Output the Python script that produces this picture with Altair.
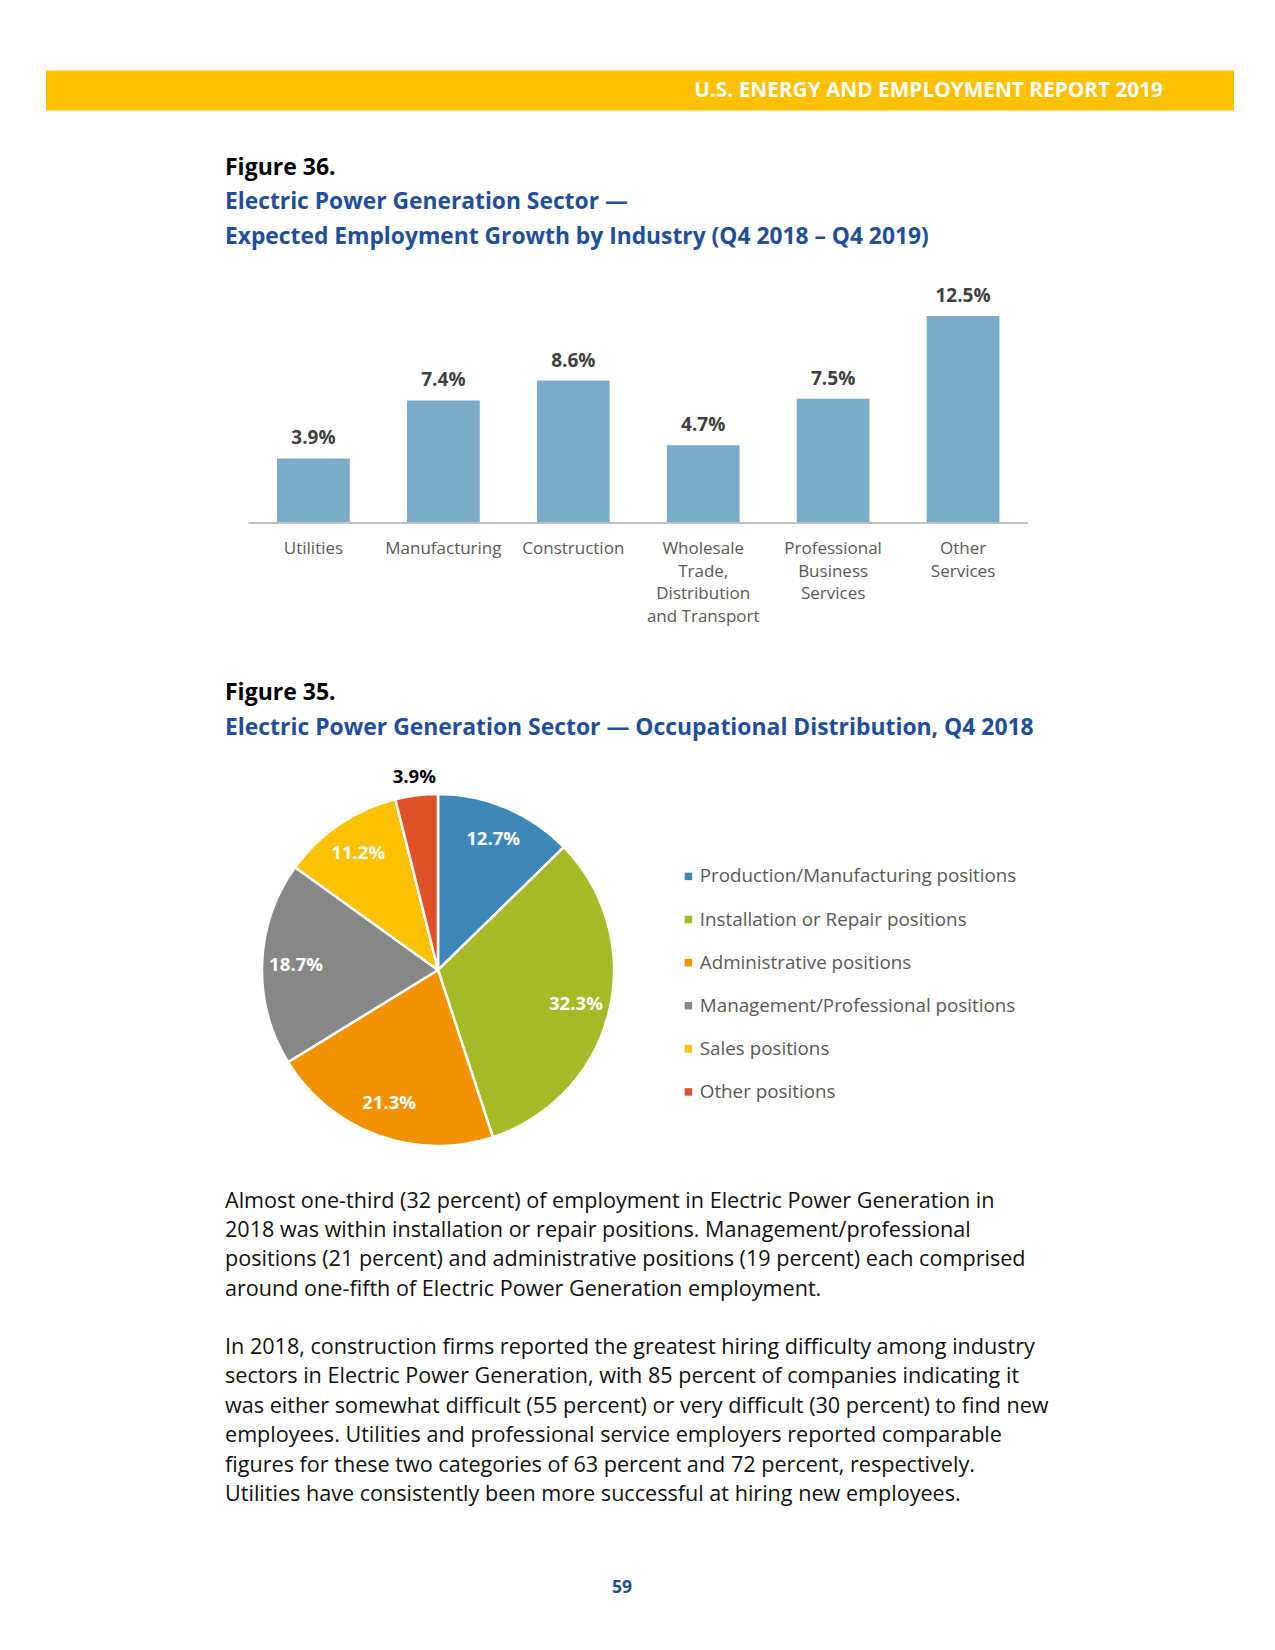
import altair as alt
import pandas as pd

# ---------------- data ----------------
industries = ["Utilities", "Manufacturing", "Construction",
              "Wholesale\nTrade,\nDistribution\nand Transport",
              "Professional\nBusiness\nServices", "Other\nServices"]
growth = [3.9, 7.4, 8.6, 4.7, 7.5, 12.5]

occupations = ["Production/Manufacturing positions", "Installation or Repair positions",
               "Administrative positions", "Management/Professional positions",
               "Sales positions", "Other positions"]
shares = [12.7, 32.3, 21.3, 18.7, 11.2, 3.9]
occ_colors = ["#3E88B8", "#A6B927", "#F39200", "#878787", "#FCC100", "#E05127"]

header_text = "U.S. ENERGY AND EMPLOYMENT REPORT 2019"
fig36_label = "Figure 36."
fig36_title = ["Electric Power Generation Sector \u2014",
               "Expected Employment Growth by Industry (Q4 2018 \u2013 Q4 2019)"]
fig35_label = "Figure 35."
fig35_title = "Electric Power Generation Sector \u2014 Occupational Distribution, Q4 2018"
para1 = ["Almost one-third (32 percent) of employment in Electric Power Generation in",
         "2018 was within installation or repair positions. Management/professional",
         "positions (21 percent) and administrative positions (19 percent) each comprised",
         "around one-fifth of Electric Power Generation employment."]
para2 = ["In 2018, construction firms reported the greatest hiring difficulty among industry",
         "sectors in Electric Power Generation, with 85 percent of companies indicating it",
         "was either somewhat difficult (55 percent) or very difficult (30 percent) to find new",
         "employees. Utilities and professional service employers reported comparable",
         "figures for these two categories of 63 percent and 72 percent, respectively.",
         "Utilities have consistently been more successful at hiring new employees."]
page_number = "59"

FONT = "Open Sans"
BLUE = "#1F4E9C"
W, H = 1259, 1634

one = alt.Data(values=[{}])


def txt(text, x, y, size, weight="normal", color="#000000", align="left", line_height=None):
    kw = dict(fontSize=size, fontWeight=weight, color=color, align=align,
              baseline="middle", font=FONT)
    if line_height:
        kw["lineHeight"] = line_height
    return alt.Chart(one).mark_text(**kw).encode(
        x=alt.value(x), y=alt.value(y), text=alt.value(text))


# ---------------- header ----------------
header_bar = alt.Chart(one).mark_rect(color="#FFC000").encode(
    x=alt.value(38), x2=alt.value(1226), y=alt.value(62.5), y2=alt.value(102.5))
header_lbl = txt(header_text, 1155, 83, 20.8, "bold", "#FFFFFF", align="right")

# ---------------- bar chart ----------------
bar_df = pd.DataFrame({"industry": industries, "growth": growth})
bar_df["lbl"] = [f"{v:.1f}%" for v in growth]

xs = alt.Scale(domain=industries, range=[240.5, 1020], paddingInner=0.44, paddingOuter=0.22)
ys = alt.Scale(domain=[0, 14], range=[515, 283.2])

bar_base = alt.Chart(bar_df).encode(
    x=alt.X("industry:N", scale=xs, sort=None, axis=None))
bars = bar_base.mark_bar(color="#7AACCA").encode(
    y=alt.Y("growth:Q", scale=ys, axis=None))
bar_vals = bar_base.mark_text(fontSize=19, fontWeight="bold", color="#404040",
                              font=FONT, baseline="middle", dy=-20).encode(
    y=alt.Y("growth:Q", scale=ys, axis=None), text="lbl:N")
bar_cats = bar_base.mark_text(fontSize=17, color="#595959", font=FONT,
                              baseline="middle", lineBreak="\n", lineHeight=22.5).encode(
    y=alt.value(541), text="industry:N")
baseline = alt.Chart(one).mark_rule(color="#BFBFBF", strokeWidth=2).encode(
    x=alt.value(240.5), x2=alt.value(1020), y=alt.value(515))

bar_chart = alt.layer(bars, bar_vals, bar_cats, baseline)

# ---------------- pie chart ----------------
pie_df = pd.DataFrame({"occ": occupations, "share": shares, "ord": list(range(len(shares)))})
pie_df["lbl"] = [f"{v:.1f}%" for v in shares]

pie_base = alt.Chart(pie_df).encode(
    theta=alt.Theta("share:Q", stack=True),
    order=alt.Order("ord:Q"),
    x=alt.value(430), y=alt.value(962))
arcs = pie_base.mark_arc(outerRadius=176, stroke="#FFFFFF", strokeWidth=2.5).encode(
    color=alt.Color("occ:N",
                    scale=alt.Scale(domain=occupations, range=occ_colors),
                    sort=occupations,
                    legend=alt.Legend(orient="none", legendX=671, legendY=859,
                                      title=None, symbolType="square", symbolSize=56,
                                      symbolStrokeWidth=0, labelFontSize=18.8,
                                      labelFont=FONT, labelColor="#595959",
                                      labelLimit=600, rowPadding=23.1, labelOffset=2)))
inner_lbls = pie_base.transform_calculate(
    t="datum.occ == 'Other positions' ? '' : datum.lbl"
).mark_text(radius=142, fontSize=18.6, fontWeight="bold", color="#FFFFFF",
            font=FONT, baseline="middle").encode(text="t:N")
outer_lbls = pie_base.transform_calculate(
    t="datum.occ == 'Other positions' ? datum.lbl : ''"
).mark_text(radius=194, fontSize=18.6, fontWeight="bold", color="#000000",
            font=FONT, baseline="middle").encode(text="t:N")

pie_chart = alt.layer(arcs, inner_lbls, outer_lbls)

# ---------------- texts ----------------
texts = [
    header_bar, header_lbl,
    txt(fig36_label, 217, 160, 23, "bold", "#000000"),
    txt(fig36_title[0], 217, 194, 22.8, "bold", BLUE),
    txt(fig36_title[1], 217, 229, 22.8, "bold", BLUE),
    txt(fig35_label, 217, 684.5, 23, "bold", "#000000"),
    txt(fig35_title, 217, 719.5, 22.9, "bold", BLUE),
    txt(para1, 217, 1193.5, 21.6, "normal", "#111111", line_height=29.4),
    txt(para2, 217, 1340, 21.6, "normal", "#111111", line_height=29.4),
    txt(page_number, 614, 1580, 17.5, "bold", BLUE, align="center"),
]

chart = alt.layer(*texts, bar_chart, pie_chart).properties(
    width=W, height=H,
    autosize=alt.AutoSizeParams(type="none"),
    padding=0,
).configure(font=FONT).configure_view(stroke=None)

chart.save("out.html", embed_options={"renderer": "svg", "actions": False})
